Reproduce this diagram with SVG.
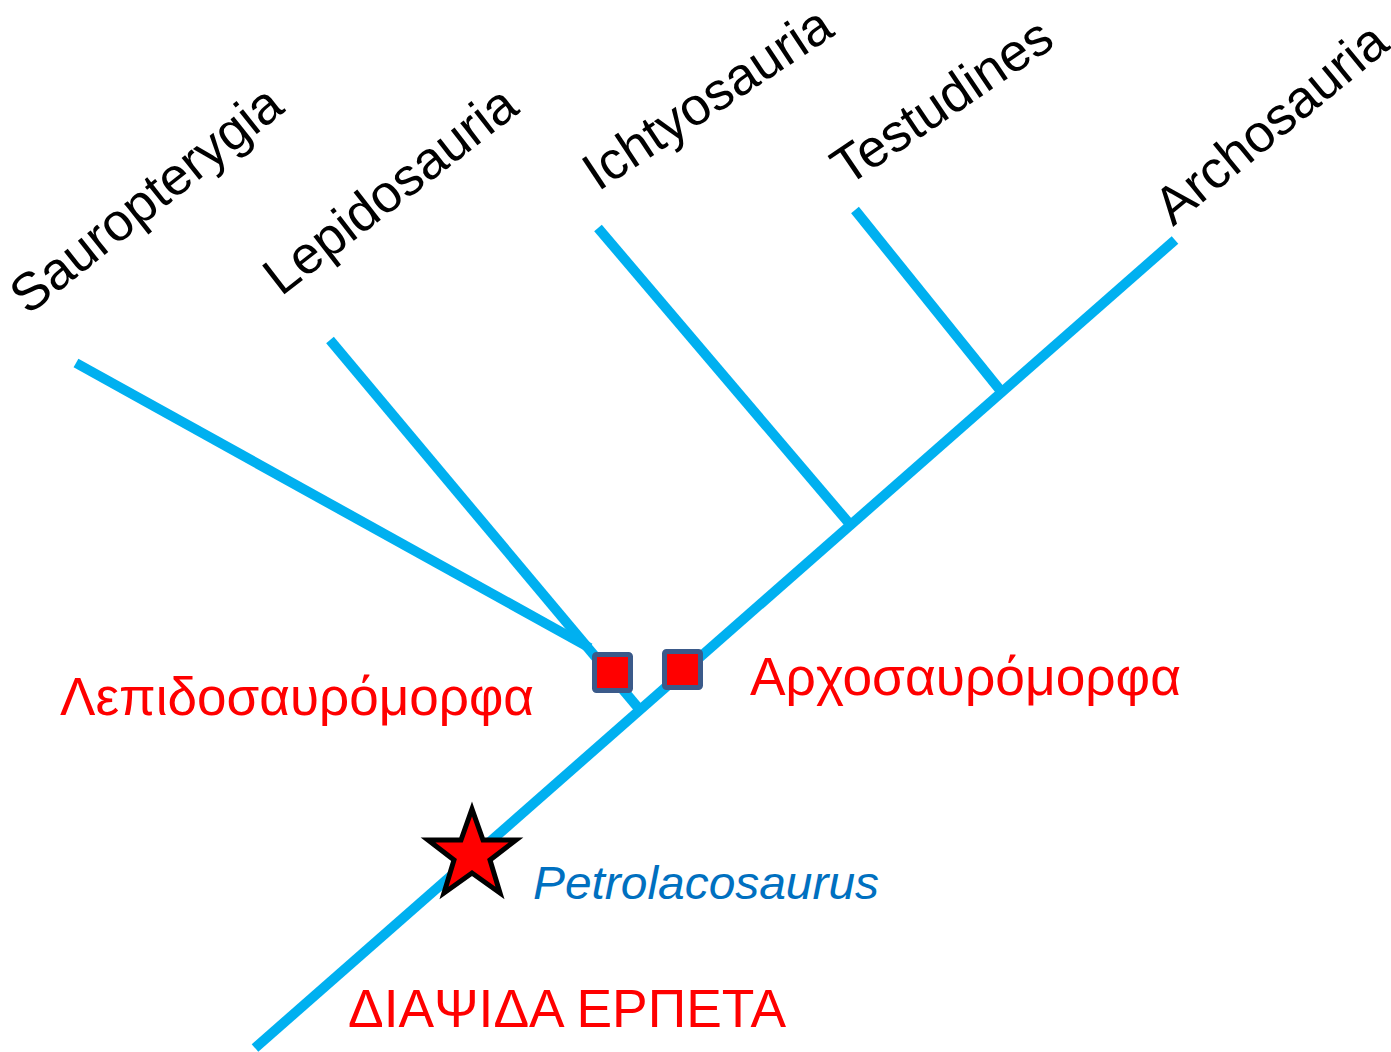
<svg xmlns="http://www.w3.org/2000/svg" width="1391" height="1052" viewBox="0 0 1391 1052">
<defs>
<style>
.br{stroke:#00B0F0;stroke-width:10;fill:none;stroke-linecap:butt}
.tx{font-family:"Liberation Sans",Arial,sans-serif;font-size:53px;fill:#000}
.gr{font-family:"Liberation Sans",Arial,sans-serif;font-size:53px;fill:#FF0000}
.mk{fill:#FF0000;stroke:#3B5A8A;stroke-width:5}
</style>
</defs>
<rect width="1391" height="1052" fill="#fff"/>
<g id="connectors">
<line class="br" x1="255" y1="1048" x2="1175" y2="240"/>
<line class="br" x1="640" y1="710" x2="330" y2="340"/>
<line class="br" x1="590" y1="648" x2="76" y2="363"/>
<line class="br" x1="848" y1="522" x2="598" y2="228"/>
<line class="br" x1="1000" y1="390" x2="855" y2="210"/>
</g>
<g id="sauropterygia"><text class="tx" transform="translate(28,316) rotate(-38.5)">Sauropterygia</text></g>
<g id="lepidosauria"><text class="tx" transform="translate(281,297) rotate(-37.7)">Lepidosauria</text></g>
<g id="ichthyosauria"><text class="tx" transform="translate(598,192) rotate(-33.5)">Ichtyosauria</text></g>
<g id="testudines"><text class="tx" transform="translate(847,187) rotate(-34)">Testudines</text></g>
<g id="archosauria"><text class="tx" transform="translate(1173,227) rotate(-39.4)">Archosauria</text></g>
<g id="lepidosauromorpha">
<rect class="mk" x="594.5" y="654.5" width="36" height="36" rx="2"/>
<text class="gr" x="60" y="715" textLength="474" lengthAdjust="spacingAndGlyphs">Λεπιδοσαυρόμορφα</text>
</g>
<g id="archosauromorpha">
<rect class="mk" x="664.5" y="651.5" width="36" height="36" rx="2"/>
<text class="gr" x="750" y="695" textLength="431" lengthAdjust="spacingAndGlyphs">Αρχοσαυρόμορφα</text>
</g>
<g id="petrolacosaurus">
<polygon points="472,809 483,840 516,840 490,860 500,893 472,873 444,893 454,860 428,840 461,840" fill="#FF0000" stroke="#000" stroke-width="5" stroke-linejoin="miter"/>
<text x="533" y="899" font-family="'Liberation Sans',Arial,sans-serif" font-size="46" font-style="italic" fill="#0070C0" textLength="346" lengthAdjust="spacingAndGlyphs">Petrolacosaurus</text>
</g>
<g id="diapsida">
<text class="gr" x="348" y="1027" font-size="54" textLength="438" lengthAdjust="spacingAndGlyphs">ΔΙΑΨΙΔΑ ΕΡΠΕΤΑ</text>
</g>
</svg>
